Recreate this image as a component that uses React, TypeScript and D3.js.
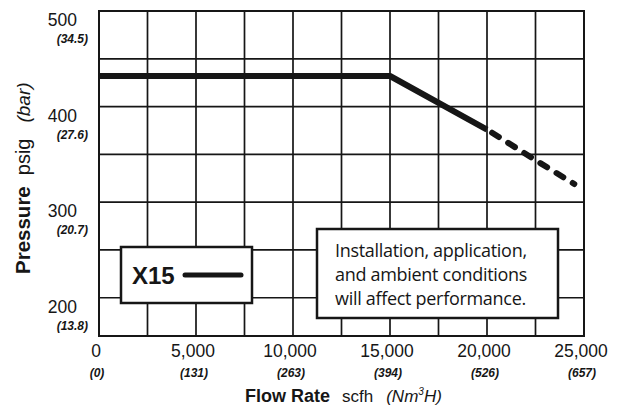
import React, { useEffect, useRef } from 'react';
import * as d3 from 'd3';

// flow rate (scfh) vs pressure (psig) for X15
const solidFlow = [0, 15000, 20000];
const solidPressure = [432, 432, 376];
const dashedFlow = [20000, 22500, 24500];
const dashedPressure = [376, 344, 319];

const xTicks = [0, 5000, 10000, 15000, 20000, 25000];
const xSubLabels = ['(0)', '(131)', '(263)', '(394)', '(526)', '(657)'];
const yTicks = [200, 300, 400, 500];
const ySubLabels = ['(13.8)', '(20.7)', '(27.6)', '(34.5)'];
const xGrid = d3.range(0, 25001, 2500);
const yGrid = d3.range(200, 501, 50);
const noteLines = ['Installation, application,', 'and ambient conditions', 'will affect performance.'];
const seriesName = 'X15';

const App: React.FC = () => {
  const svgRef = useRef<SVGSVGElement>(null);

  useEffect(() => {
    if (!svgRef.current) return;
    const svg = d3.select(svgRef.current);
    svg.selectAll('*').remove();

    const left = 99, right = 584, top = 11, bottom = 336;
    const ink = '#161616';
    const font = '"Liberation Sans", Arial, sans-serif';
    const x = d3.scaleLinear().domain([0, 25000]).range([left, right]);
    const y = d3.scaleLinear().domain([160, 500]).range([bottom, top]);

    svg.append('rect').attr('width', 619).attr('height', 413).attr('fill', '#fff');

    // grid
    svg.append('g').selectAll('line').data(xGrid).join('line')
      .attr('x1', d => x(d)).attr('x2', d => x(d))
      .attr('y1', top).attr('y2', bottom)
      .attr('stroke', ink).attr('stroke-width', 1.7);
    svg.append('g').selectAll('line').data(yGrid).join('line')
      .attr('x1', left).attr('x2', right)
      .attr('y1', d => y(d)).attr('y2', d => y(d))
      .attr('stroke', ink).attr('stroke-width', 1.7);
    svg.append('rect')
      .attr('x', left).attr('y', top).attr('width', right - left).attr('height', bottom - top)
      .attr('fill', 'none').attr('stroke', ink).attr('stroke-width', 2);

    // data line
    const line = d3.line<[number, number]>().x(d => x(d[0])).y(d => y(d[1]));
    svg.append('path')
      .datum(solidFlow.map((f, i) => [f, solidPressure[i]] as [number, number]))
      .attr('d', line).attr('fill', 'none').attr('stroke', ink)
      .attr('stroke-width', 6).attr('stroke-linejoin', 'round');
    svg.append('path')
      .datum(dashedFlow.map((f, i) => [f, dashedPressure[i]] as [number, number]))
      .attr('d', line).attr('fill', 'none').attr('stroke', ink)
      .attr('stroke-width', 6).attr('stroke-linecap', 'round')
      .attr('stroke-dasharray', '8 11').attr('stroke-dashoffset', -6);

    // x tick labels
    const xt = svg.append('g').attr('font-family', font).attr('fill', ink);
    xt.selectAll('text.main').data(xTicks).join('text')
      .attr('class', 'main')
      .attr('x', d => x(d) - 3).attr('y', 357)
      .attr('text-anchor', 'middle').attr('font-size', 17.5)
      .text(d => d3.format(',')(d));
    xt.selectAll('text.sub').data(xTicks).join('text')
      .attr('class', 'sub')
      .attr('x', d => x(d) - 2).attr('y', 377)
      .attr('text-anchor', 'middle').attr('font-size', 12).attr('font-style', 'italic')
      .attr('font-weight', 'bold')
      .text((d, i) => xSubLabels[i]);

    // y tick labels
    const yt = svg.append('g').attr('font-family', font).attr('fill', ink);
    yt.selectAll('text.main').data(yTicks).join('text')
      .attr('class', 'main')
      .attr('x', 77).attr('y', d => y(d) + 15)
      .attr('text-anchor', 'end').attr('font-size', 17.5)
      .text(d => d);
    yt.selectAll('text.sub').data(yTicks).join('text')
      .attr('class', 'sub')
      .attr('x', 88).attr('y', d => y(d) + 32)
      .attr('text-anchor', 'end').attr('font-size', 12).attr('font-style', 'italic')
      .attr('font-weight', 'bold')
      .text((d, i) => ySubLabels[i]);

    // axis titles
    const xTitle = svg.append('text')
      .attr('x', 245).attr('y', 402)
      .attr('font-family', font).attr('fill', ink);
    xTitle.append('tspan').attr('font-weight', 'bold').attr('font-size', 18).text('Flow Rate');
    xTitle.append('tspan').attr('dx', 12).attr('font-size', 17).text('scfh');
    xTitle.append('tspan').attr('dx', 13).attr('font-size', 17).attr('font-style', 'italic').text('(Nm');
    xTitle.append('tspan').attr('font-size', 10).attr('font-style', 'italic').attr('dy', -7).text('3');
    xTitle.append('tspan').attr('font-size', 17).attr('font-style', 'italic').attr('dy', 7).text('H)');

    const yTitle = svg.append('text')
      .attr('transform', 'translate(30,274) rotate(-90)')
      .attr('font-family', font).attr('fill', ink);
    yTitle.append('tspan').attr('font-weight', 'bold').attr('font-size', 20.5).text('Pressure');
    yTitle.append('tspan').attr('dx', 11).attr('font-size', 20).text('psig');
    yTitle.append('tspan').attr('dx', 16).attr('font-size', 19).attr('font-style', 'italic').text('(bar)');

    // legend box
    svg.append('rect')
      .attr('x', 121).attr('y', 247).attr('width', 131).attr('height', 56)
      .attr('fill', '#fff').attr('stroke', ink).attr('stroke-width', 2.5);
    svg.append('text')
      .attr('x', 132).attr('y', 284)
      .attr('font-family', font)
      .attr('font-weight', 'bold').attr('font-size', 24).attr('fill', ink)
      .text(seriesName);
    svg.append('line')
      .attr('x1', 185).attr('x2', 241).attr('y1', 275).attr('y2', 275)
      .attr('stroke', ink).attr('stroke-width', 5).attr('stroke-linecap', 'round');

    // note box
    svg.append('rect')
      .attr('x', 317).attr('y', 229).attr('width', 241).attr('height', 89)
      .attr('fill', '#fff').attr('stroke', ink).attr('stroke-width', 2.5);
    svg.append('g').selectAll('text').data(noteLines).join('text')
      .attr('x', 335).attr('y', (d, i) => 257 + i * 24)
      .attr('font-family', '"Open Sans", sans-serif').attr('font-size', 18)
      .attr('letter-spacing', -0.3)
      .attr('fill', ink)
      .text(d => d);
  }, []);

  return (
    <svg
      ref={svgRef}
      width={619}
      height={413}
      style={{ position: 'absolute', left: 0, top: 0 }}
    />
  );
};

export default App;
